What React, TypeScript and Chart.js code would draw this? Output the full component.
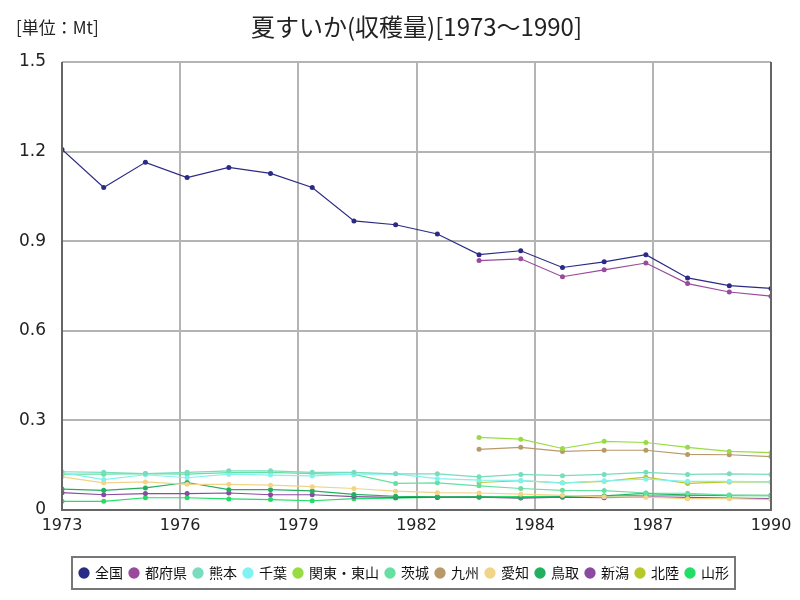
import React, { useEffect, useRef } from "react";
import { Chart, registerables } from "chart.js";

Chart.register(...registerables);

const years = [1973, 1974, 1975, 1976, 1977, 1978, 1979, 1980, 1981, 1982, 1983, 1984, 1985, 1986, 1987, 1988, 1989, 1990];
const N = null;
const zenkoku = [1.207, 1.08, 1.164, 1.113, 1.147, 1.127, 1.08, 0.968, 0.955, 0.924, 0.855, 0.868, 0.812, 0.831, 0.855, 0.777, 0.751, 0.742];
const tofuken = [N, N, N, N, N, N, N, N, N, N, 0.835, 0.841, 0.781, 0.804, 0.827, 0.758, 0.73, 0.716];
const kumamoto = [0.128, 0.126, 0.122, 0.126, 0.131, 0.131, 0.126, 0.126, 0.121, 0.121, 0.111, 0.119, 0.115, 0.119, 0.126, 0.119, 0.121, 0.119];
const chiba = [0.125, 0.102, 0.118, 0.108, 0.12, 0.117, 0.114, 0.12, 0.121, 0.105, 0.1, 0.099, 0.09, 0.098, 0.103, 0.096, 0.096, 0.094];
const kanto = [N, N, N, N, N, N, N, N, N, N, 0.243, 0.237, 0.206, 0.23, 0.226, 0.21, 0.196, 0.192];
const ibaraki = [0.12, 0.12, 0.122, 0.12, 0.125, 0.126, 0.122, 0.119, 0.089, 0.091, 0.081, 0.072, 0.066, 0.065, 0.057, 0.056, 0.05, 0.048];
const kyushu = [N, N, N, N, N, N, N, N, N, N, 0.203, 0.21, 0.196, 0.2, 0.2, 0.186, 0.185, 0.179];
const aichi = [0.111, 0.091, 0.094, 0.086, 0.086, 0.083, 0.078, 0.072, 0.063, 0.058, 0.057, 0.053, 0.049, 0.044, 0.043, 0.038, 0.038, 0.035];
const tottori = [0.07, 0.066, 0.074, 0.092, 0.068, 0.068, 0.064, 0.052, 0.046, 0.044, 0.044, 0.041, 0.045, 0.047, 0.056, 0.05, 0.049, 0.049];
const niigata = [0.058, 0.051, 0.055, 0.055, 0.057, 0.051, 0.051, 0.045, 0.042, 0.042, 0.043, 0.04, 0.043, 0.041, 0.044, 0.042, 0.04, 0.038];
const hokuriku = [N, N, N, N, N, N, N, N, N, N, 0.092, 0.098, 0.091, 0.096, 0.11, 0.089, 0.094, 0.094];
const yamagata = [0.029, 0.029, 0.041, 0.041, 0.037, 0.035, 0.031, 0.038, 0.04, 0.043, 0.044, 0.045, 0.046, 0.046, 0.05, 0.05, 0.048, 0.048];

const seriesNames = ["全国", "都府県", "熊本", "千葉", "関東・東山", "茨城", "九州", "愛知", "鳥取", "新潟", "北陸", "山形"];
const seriesValues = [zenkoku, tofuken, kumamoto, chiba, kanto, ibaraki, kyushu, aichi, tottori, niigata, hokuriku, yamagata];
const seriesColors = ["#2b2b85", "#9a4a9a", "#78dcbe", "#80f2f2", "#98dc44", "#66e0a0", "#b8996a", "#f2d488", "#22b060", "#8a4aa0", "#b8c828", "#22dd66"];

const TITLE = "夏すいか(収穫量)[1973～1990]";
const UNIT = "[単位：Mt]";
const FONT = "'Noto Sans CJK JP', 'DejaVu Sans', sans-serif";

export default function App() {
  const ref = useRef<HTMLCanvasElement | null>(null);
  useEffect(() => {
    document.body.style.margin = "0";
    const canvas = ref.current!;
    const datasets = seriesNames.map((name, i) => ({
      label: name,
      data: years
        .map((y, j) => ({ x: y, y: seriesValues[i][j] }))
        .filter((p) => p.y !== null),
      borderColor: seriesColors[i],
      backgroundColor: seriesColors[i],
      borderWidth: 1.2,
      pointRadius: 2.5,
      pointBorderWidth: 0,
      pointHoverRadius: 2.5,
      tension: 0,
    }));

    const framePlugin = {
      id: "frame",
      afterLayout(chart: any) {
        const lg = chart.legend;
        if (lg) {
          lg.left += 15;
          lg.right += 15;
          (lg.legendHitBoxes || []).forEach((h: any) => {
            h.left += 15;
          });
        }
      },
      afterDraw(chart: any) {
        const ctx = chart.ctx;
        const a = chart.chartArea;
        ctx.save();
        ctx.strokeStyle = "#666";
        ctx.lineWidth = 2;
        ctx.beginPath();
        ctx.moveTo(a.left, a.top);
        ctx.lineTo(a.left, a.bottom);
        ctx.lineTo(a.right, a.bottom);
        ctx.lineTo(a.right, a.top);
        ctx.stroke();
        ctx.fillStyle = "#222";
        ctx.textBaseline = "middle";
        ctx.textAlign = "center";
        ctx.font = "24px " + FONT;
        ctx.fillText(TITLE, (a.left + a.right) / 2, 27);
        ctx.textAlign = "left";
        ctx.font = "17px " + FONT;
        ctx.fillText(UNIT, 16, 28);
        const lg = chart.legend;
        if (lg && lg.legendHitBoxes && lg.legendHitBoxes.length) {
          const boxes = lg.legendHitBoxes;
          let minX = Infinity, maxX = -Infinity, minY = Infinity, maxY = -Infinity;
          boxes.forEach((b: any) => {
            minX = Math.min(minX, b.left);
            maxX = Math.max(maxX, b.left + b.width);
            minY = Math.min(minY, b.top);
            maxY = Math.max(maxY, b.top + b.height);
          });
          ctx.strokeStyle = "#777";
          ctx.lineWidth = 2;
          ctx.strokeRect(minX - 8, minY - 9, maxX - minX + 14, maxY - minY + 18);
        }
        ctx.restore();
      },
    };

    const chart = new Chart(canvas, {
      type: "line",
      data: { datasets },
      options: {
        animation: false,
        responsive: false,
        layout: { padding: { top: 62, left: 8, right: 29, bottom: 10 } },
        plugins: {
          legend: {
            position: "bottom",
            labels: {
              usePointStyle: true,
              pointStyle: "circle",
              boxWidth: 8,
              boxHeight: 8,
              padding: 7,
              color: "#111",
              font: { size: 14, family: FONT },
            },
          },
          title: { display: false },
          tooltip: { enabled: false },
        },
        scales: {
          x: {
            type: "linear",
            min: 1973,
            max: 1990,
            afterBuildTicks: (axis: any) => {
              axis.ticks = [0, 1, 2, 3, 4, 5, 6].map((i) => ({ value: 1973 + (17 * i) / 6 }));
            },
            afterFit: (axis: any) => {
              axis.height = 49;
            },
            ticks: {
              callback: (v: any) => String(Math.round(Number(v))),
              color: "#222",
              font: { size: 16, family: "'DejaVu Sans', sans-serif" },
              maxRotation: 0,
              padding: 6,
            },
            grid: { color: "#b4b4b4", lineWidth: 2, drawTicks: false },
            border: { display: false },
          },
          y: {
            min: 0,
            max: 1.5,
            afterBuildTicks: (axis: any) => {
              axis.ticks = [0, 0.3, 0.6, 0.9, 1.2, 1.5].map((v) => ({ value: v }));
            },
            afterFit: (axis: any) => {
              axis.width = 54;
            },
            ticks: {
              callback: (v: any) => (Number(v) === 0 ? "0" : Number(v).toFixed(1)),
              color: "#222",
              font: { size: 17, family: "'DejaVu Sans', sans-serif" },
              padding: 16,
            },
            grid: { color: "#b4b4b4", lineWidth: 2, drawTicks: false },
            border: { display: false },
          },
        },
      },
      plugins: [framePlugin],
    } as any);
    return () => chart.destroy();
  }, []);
  return (
    <div style={{ width: 800, height: 600 }}>
      <canvas ref={ref} width={800} height={600} />
    </div>
  );
}
